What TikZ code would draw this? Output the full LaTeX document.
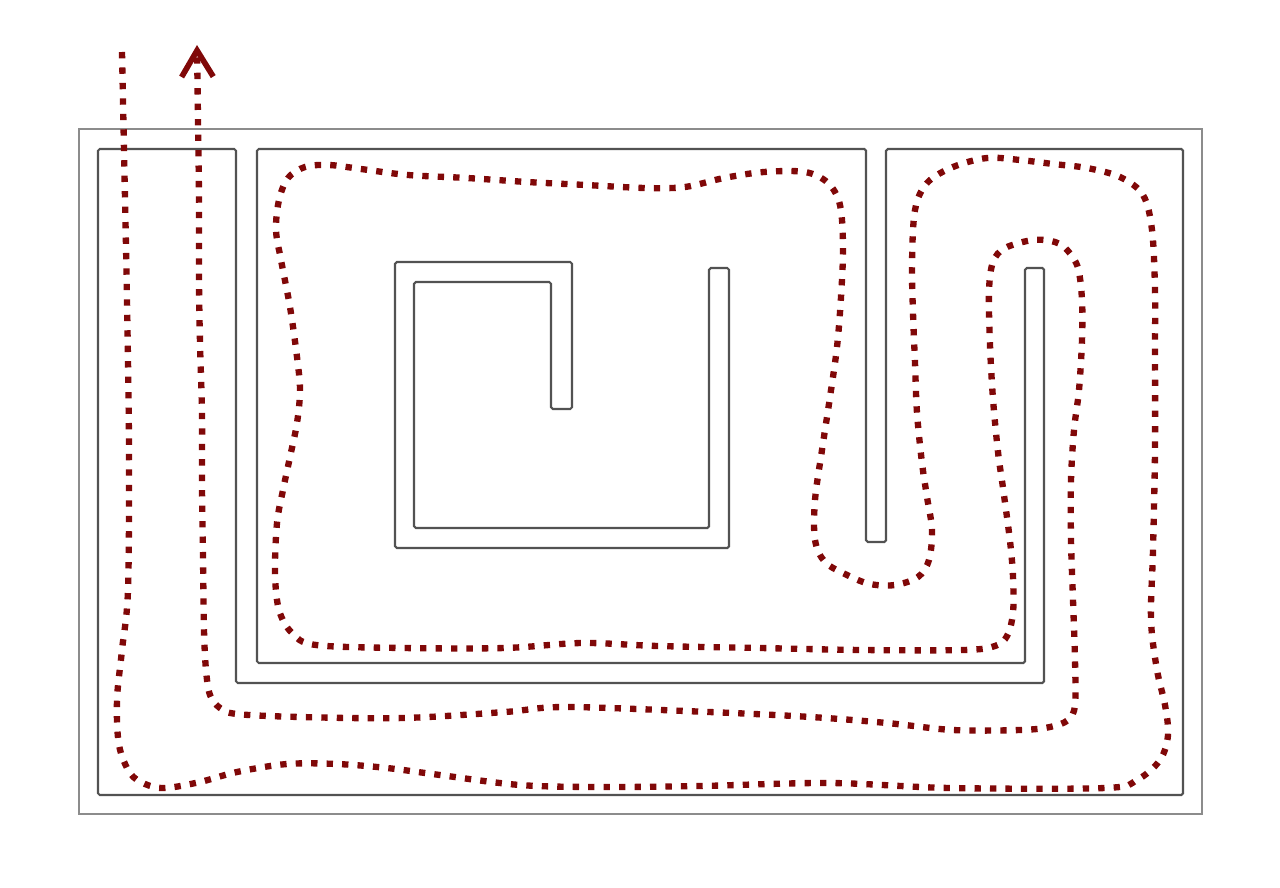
\documentclass[tikz,border=0pt]{standalone}
\usepackage{xcolor}
\usepackage{tikz}
\usetikzlibrary{arrows.meta}
\definecolor{trail}{RGB}{128,8,8}

\begin{document}
\begin{tikzpicture}[
    x=0.02cm, y=-0.02cm,
    rim/.style={draw=black!45, line width=1.2pt},
    wall/.style={draw=black!68, line width=1.2pt, rounded corners=1pt},
    route/.style={
        draw=trail, line width=3.6pt, line cap=butt,
        dash pattern=on 3.6pt off 5.2pt,
        -{Straight Barb[length=15pt, width=18pt, line width=3.2pt]}
      }
  ]
  \useasboundingbox (0,0) rectangle (1280,888);

  % outer frame
  \draw[rim] (79,129) rectangle (1202,814);

  % outer walls with their two spurs
  \draw[wall] (236,149) -- (236,683) -- (1044,683) -- (1044,268) -- (1025,268)
    -- (1025,663) -- (257,663) -- (257,149) -- (866,149) -- (866,542)
    -- (886,542) -- (886,149) -- (1183,149) -- (1183,795) -- (98,795)
    -- (98,149) -- cycle;

  % centre island
  \draw[wall] (395,262) -- (572,262) -- (572,409) -- (551,409) -- (551,282)
    -- (414,282) -- (414,528) -- (709,528) -- (709,268) -- (729,268)
    -- (729,548) -- (395,548) -- cycle;

  % route through the maze
  \draw[route] plot[smooth, tension=0.55] coordinates {
    (122,52) (124,150) (127,300) (129,450) (128,590) (122,650) (117,700)
    (119,745) (130,773) (145,784) (165,788) (200,782) (237,772) (287,764)
    (337,764) (387,768) (440,775) (520,785) (600,787) (700,786) (830,783)
    (950,788) (1105,788) (1137,780) (1160,760) (1168,735) (1165,705)
    (1157,670) (1151,620) (1153,550) (1155,450) (1155,350) (1155,290)
    (1152,230) (1143,195) (1120,177) (1087,168) (1053,164) (1020,160)
    (987,158) (953,167) (927,183) (915,210) (912,263) (913,313) (915,363)
    (917,413) (922,463) (927,497) (932,530) (929,560) (918,577) (895,585)
    (870,584) (847,575) (825,562) (815,540) (815,500) (822,450) (830,397)
    (837,347) (841,297) (843,247) (840,205) (828,183) (805,172) (764,172)
    (724,178) (685,187) (645,188) (586,185) (527,182) (467,178) (408,175)
    (361,169) (329,165) (305,167) (288,178) (279,200) (276,230) (281,260)
    (290,307) (297,357) (300,390) (297,423) (290,457) (283,490) (277,523)
    (275,573) (279,610) (292,633) (316,645) (403,648) (505,648) (582,643)
    (658,646) (760,648) (862,650) (964,650) (995,646) (1007,636) (1013,613)
    (1013,577) (1010,541) (1003,488) (998,452) (993,399) (990,345) (989,291)
    (993,262) (1005,248) (1033,240) (1055,242) (1068,251) (1078,268)
    (1082,300) (1082,340) (1079,390) (1074,430) (1071,480) (1071,540)
    (1073,600) (1075,660) (1075,705) (1068,720) (1050,727) (1020,730)
    (953,730) (887,723) (811,717) (709,712) (566,707) (505,712) (403,718)
    (300,717) (237,714) (220,708) (210,695) (206,670) (204,630) (203,557)
    (202,486) (202,414) (200,343) (199,280) (199,200) (198,120) (197,45)
  };
\end{tikzpicture}
\end{document}
